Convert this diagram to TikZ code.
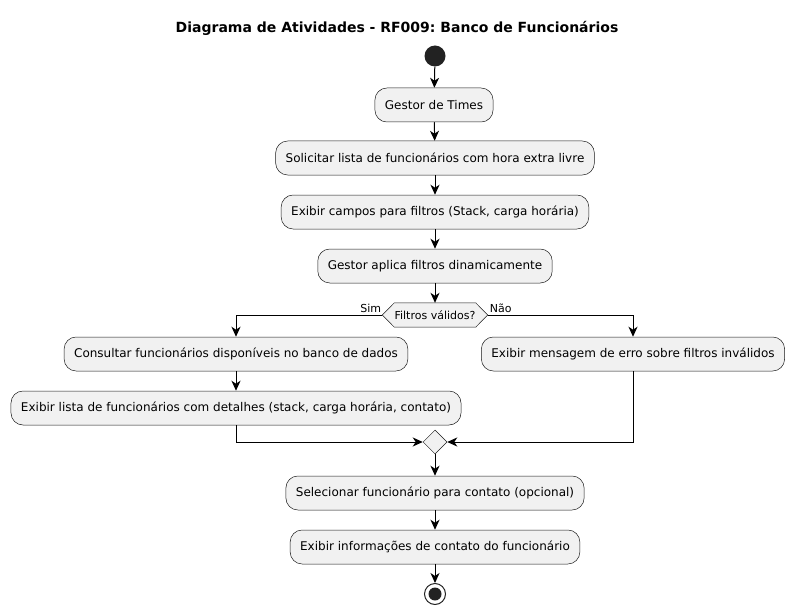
\documentclass[tikz,border=0pt]{standalone}
\usepackage{fontspec}
\setmainfont{DejaVu Sans}
\frenchspacing
\usetikzlibrary{arrows.meta,shapes.geometric,calc}
\definecolor{boxfill}{HTML}{F1F1F1}
\definecolor{boxline}{HTML}{181818}
\definecolor{dot}{HTML}{222222}
\tikzset{
  act/.style={draw=boxline, line width=0.5pt, fill=boxfill, rounded corners=12pt,
    minimum height=34pt, inner xsep=10pt, inner ysep=0pt, font=\fontsize{12pt}{14pt}\selectfont},
  flow/.style={draw=black, line width=1pt, -{Stealth[length=10pt,width=9pt,inset=3pt]}},
  lbl/.style={font=\fontsize{11pt}{13pt}\selectfont, inner sep=1pt}
}
\begin{document}
\begin{tikzpicture}[x=1pt,y=-1pt]
\useasboundingbox (0,0) rectangle (795,615);
\node[font=\fontsize{14pt}{16pt}\selectfont\bfseries] (title) at (397,28) {Diagrama de Atividades - RF009: Banco de Funcionários};
\node[circle, fill=dot, minimum size=21pt, inner sep=0pt] (start) at (435,56) {};
\node[act] (a1) at (434,105) {Gestor de Times};
\node[act] (a2) at (435,158) {Solicitar lista de funcionários com hora extra livre};
\node[act] (a3) at (435,212) {Exibir campos para filtros (Stack, carga horária)};
\node[act] (a4) at (435,266) {Gestor aplica filtros dinamicamente};
\node[minimum width=105pt, minimum height=24pt, inner sep=0pt] (dec) at (435,315) {};
\draw[draw=boxline, line width=0.5pt, fill=boxfill]
  (dec.west) -- ($(dec.north west)+(12,0)$) -- ($(dec.north east)+(-12,0)$) -- (dec.east)
  -- ($(dec.south east)+(-12,0)$) -- ($(dec.south west)+(12,0)$) -- cycle;
\node[lbl] at (dec) {Filtros válidos?};
\node[act] (l1) at (236,354) {Consultar funcionários disponíveis no banco de dados};
\node[act] (l2) at (236,408) {Exibir lista de funcionários com detalhes (stack, carga horária, contato)};
\node[act] (r1) at (633,354) {Exibir mensagem de erro sobre filtros inválidos};
\node[diamond, draw=boxline, line width=0.5pt, fill=boxfill, minimum width=24pt, minimum height=24pt, inner sep=0pt] (merge) at (435,442) {};
\node[act] (a5) at (435,493) {Selecionar funcionário para contato (opcional)};
\node[act] (a6) at (435,547) {Exibir informações de contato do funcionário};
\node[circle, draw=dot, line width=1pt, fill=white, minimum size=21pt, inner sep=0pt] (stop) at (435,594) {};
\fill[dot] (stop) circle (6.5);
\draw[flow] (start) -- (a1);
\draw[flow] (a1) -- (a2);
\draw[flow] (a2) -- (a3);
\draw[flow] (a3) -- (a4);
\draw[flow] (a4) -- (dec);
\draw[flow] (dec.west) -| (l1.north);
\draw[flow] (dec.east) -| (r1.north);
\node[lbl, anchor=south east] (sim) at ($(dec.west)+(0,-1)$) {Sim};
\node[lbl, anchor=south west] (nao) at ($(dec.east)+(1,-1)$) {Não};
\draw[flow] (l1) -- (l2);
\draw[flow] (l2.south) |- (merge.west);
\draw[flow] (r1.south) |- (merge.east);
\draw[flow] (merge) -- (a5);
\draw[flow] (a5) -- (a6);
\draw[flow] (a6) -- (stop);
\end{tikzpicture}
\end{document}
